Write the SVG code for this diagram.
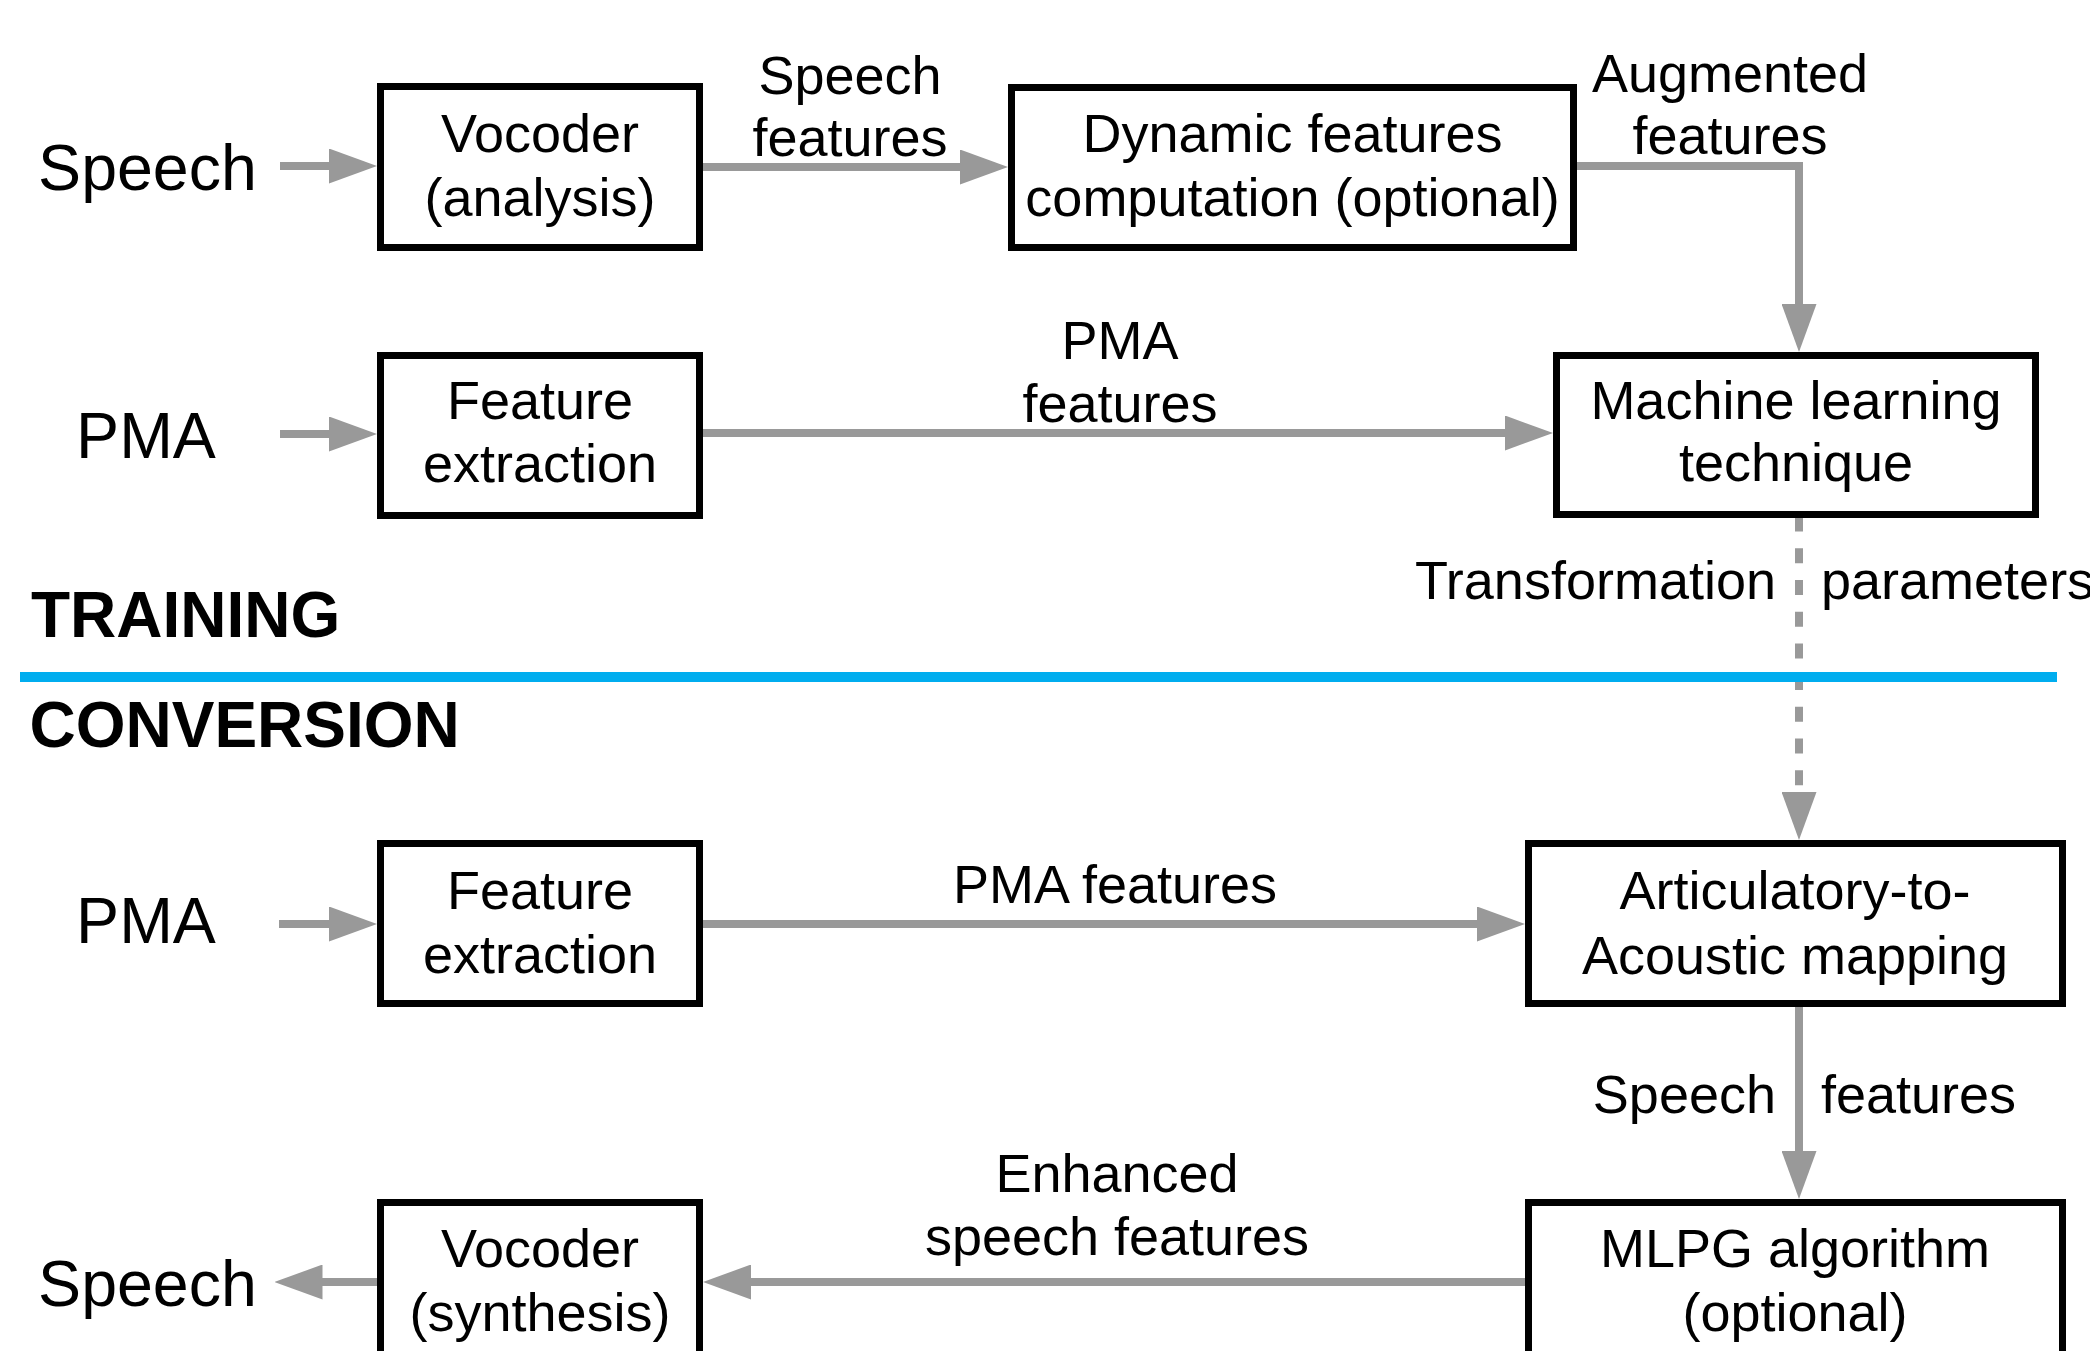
<svg xmlns="http://www.w3.org/2000/svg" width="2090" height="1351" viewBox="0 0 2090 1351">
  <style>
    text { font-family: "Liberation Sans", Arial, Helvetica, sans-serif; fill: #000; }
    .node { font-size: 54px; text-anchor: middle; }
    .lbl { font-size: 54px; }
    .mid { text-anchor: middle; }
    .end { text-anchor: end; }
    .side { font-size: 64.5px; text-anchor: middle; }
    .sect { font-size: 64px; font-weight: bold; }
    .box { fill: #fff; stroke: #000; stroke-width: 7; }
    .conn { fill: none; stroke: #999; stroke-width: 8; marker-end: url(#ah); }
    .dash { stroke-dasharray: 15 16.7; }
  </style>
  <defs>
    <marker id="ah" markerUnits="userSpaceOnUse" markerWidth="48" markerHeight="35" viewBox="0 0 48 35" refX="2" refY="17.5" orient="auto">
      <path d="M0,0 L48,17.5 L0,35 z" fill="#999"/>
    </marker>
  </defs>
  <rect width="2090" height="1351" fill="#fff"/>

  <g id="connectors">
    <path class="conn" d="M280,166 L331,166"/>
    <path class="conn" d="M703,167 L962,167"/>
    <path class="conn" d="M1577,166 H1799 V306"/>
    <path class="conn" d="M280,434 L331,434"/>
    <path class="conn" d="M703,433 L1507,433"/>
    <path class="conn dash" d="M1799,516.6 V794"/>
    <path class="conn" d="M279,924 L331,924"/>
    <path class="conn" d="M703,924 L1479,924"/>
    <path class="conn" d="M1799,1007 V1153"/>
    <path class="conn" d="M1525,1282 L749,1282"/>
    <path class="conn" d="M377,1282 L320.5,1282"/>
  </g>

  <g id="divider">
    <line x1="20" y1="677" x2="2057" y2="677" stroke="#00adef" stroke-width="10"/>
    <text class="sect" x="31" y="637">TRAINING</text>
    <text class="sect" x="29.5" y="747">CONVERSION</text>
  </g>

  <g id="labels">
    <text class="side" x="147.5" y="190">Speech</text>
    <text class="side" x="146" y="458">PMA</text>
    <text class="side" x="146" y="943">PMA</text>
    <text class="side" x="147.5" y="1306">Speech</text>
    <text class="lbl mid" x="850" y="94">Speech</text>
    <text class="lbl mid" x="850" y="156">features</text>
    <text class="lbl mid" x="1730" y="92">Augmented</text>
    <text class="lbl mid" x="1730" y="154">features</text>
    <text class="lbl mid" x="1120" y="359">PMA</text>
    <text class="lbl mid" x="1120" y="422">features</text>
    <text class="lbl end" x="1776" y="599">Transformation</text>
    <text class="lbl" x="1821" y="599">parameters</text>
    <text class="lbl mid" x="1115" y="903">PMA features</text>
    <text class="lbl end" x="1776" y="1113">Speech</text>
    <text class="lbl" x="1821" y="1113">features</text>
    <text class="lbl mid" x="1117" y="1192">Enhanced</text>
    <text class="lbl mid" x="1117" y="1255">speech features</text>
  </g>

  <g id="vocoder-analysis">
    <rect class="box" x="380.5" y="86.5" width="319" height="161"/>
    <text class="node" x="540" y="152">Vocoder</text>
    <text class="node" x="540" y="216">(analysis)</text>
  </g>
  <g id="dynamic-features">
    <rect class="box" x="1011.5" y="87.5" width="562" height="160"/>
    <text class="node" x="1292.5" y="152">Dynamic features</text>
    <text class="node" x="1292.5" y="216">computation (optional)</text>
  </g>
  <g id="feature-extraction-training">
    <rect class="box" x="380.5" y="355.5" width="319" height="160"/>
    <text class="node" x="540" y="419">Feature</text>
    <text class="node" x="540" y="482">extraction</text>
  </g>
  <g id="machine-learning">
    <rect class="box" x="1556.5" y="355.5" width="479" height="159"/>
    <text class="node" x="1796" y="419">Machine learning</text>
    <text class="node" x="1796" y="481">technique</text>
  </g>
  <g id="feature-extraction-conversion">
    <rect class="box" x="380.5" y="843.5" width="319" height="160"/>
    <text class="node" x="540" y="909">Feature</text>
    <text class="node" x="540" y="973">extraction</text>
  </g>
  <g id="articulatory-to-acoustic">
    <rect class="box" x="1528.5" y="843.5" width="534" height="160"/>
    <text class="node" x="1795" y="909">Articulatory-to-</text>
    <text class="node" x="1795" y="974">Acoustic mapping</text>
  </g>
  <g id="vocoder-synthesis">
    <rect class="box" x="380.5" y="1202.5" width="319" height="180"/>
    <text class="node" x="540" y="1267">Vocoder</text>
    <text class="node" x="540" y="1331">(synthesis)</text>
  </g>
  <g id="mlpg">
    <rect class="box" x="1528.5" y="1202.5" width="534" height="180"/>
    <text class="node" x="1795" y="1267">MLPG algorithm</text>
    <text class="node" x="1795" y="1331">(optional)</text>
  </g>
</svg>
